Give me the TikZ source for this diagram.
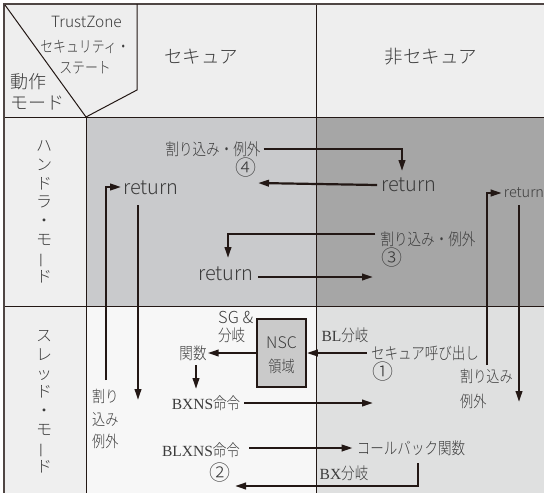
\documentclass[tikz,border=0pt]{standalone}
\usepackage{fontspec}
\usepackage{graphicx}
\usetikzlibrary{arrows.meta}
\newfontfamily\jp[FakeStretch=0.82]{Noto Sans CJK JP Light}
\newfontfamily\jpw{Noto Sans CJK JP Light}
\newfontfamily\serf{Liberation Serif}
\newcommand{\fsz}[1]{\fontsize{#1}{#1}\selectfont}
\newcommand{\lt}[1]{{\serf\fsz{15.5}#1}}
\definecolor{hdr}{HTML}{EEEEEE}
\definecolor{lcol}{HTML}{EFEFEF}
\definecolor{hsec}{HTML}{C9CACC}
\definecolor{hnon}{HTML}{A6A6A6}
\definecolor{tsec}{HTML}{F7F7F7}
\definecolor{tnon}{HTML}{DFE0E0}
\definecolor{txt}{HTML}{3C3C3C}
\definecolor{linec}{HTML}{231815}
\definecolor{nscfill}{HTML}{CACACA}
\tikzset{
  lbl/.style={inner sep=0pt, text=txt, font=\jp\fsz{16.5}},
  lat/.style={inner sep=0pt, text=txt, font=\jpw\fsz{20}},
  circ/.style={inner sep=0pt, text=txt, font=\jpw\fsz{21}},
  arr/.style={draw=linec, line width=2.2pt, -{Triangle[length=11pt,width=6.5pt]}},
  grid/.style={draw=linec, line width=1pt},
}
\begin{document}
\begin{tikzpicture}[x=1pt,y=-1pt]
\useasboundingbox (0,0) rectangle (544,493);
% backgrounds
\fill[hdr] (4,4) rectangle (544,117);
\fill[lcol] (4,117) rectangle (86,493);
\fill[hsec] (86,117) rectangle (316,306);
\fill[hnon] (316,117) rectangle (544,306);
\fill[tsec] (86,306) rectangle (316,493);
\fill[tnon] (316,306) rectangle (544,493);
% grid
\draw[grid] (4,117) -- (544,117);
\draw[grid] (4,306) -- (544,306);
\draw[grid] (86,117) -- (86,493);
\draw[grid] (316,4) -- (316,493);
\draw[draw=linec!80, line width=1.8pt] (4,493) -- (4,4) -- (544,4);
% header corner
\draw[grid] (5,5) -- (86,117);
\draw[grid] (137,4) -- (137,90) -- (86,117);
\node[lat, font=\jpw\fsz{15.5}] (tz) at (86.5,22) {TrustZone};
\node[lbl, font=\jp\fsz{15.7}] (sec1) at (85,47) {セキュリティ・};
\node[lbl, font=\jp\fsz{15.7}] (sec2) at (85,68) {ステート};
\node[lbl, font=\jpw\fsz{18}, anchor=west] (dosa) at (10,82) {動作};
\node[lbl, font=\jpw\fsz{18}, anchor=west] (mode) at (10,103) {モード};
% column headers
\node[lbl, font=\jpw\fsz{18.5}] (hsecure) at (201,57) {セキュア};
\node[lbl, font=\jpw\fsz{18.5}] (hnonsecure) at (431,57) {非セキュア};
% row headers
\node[lbl, font=\jpw\fontsize{16}{18.75}\selectfont, align=center] (rhandler) at (44,212)
  {ハ\\ン\\ド\\ラ\\・\\モ\\\rotatebox[origin=c]{90}{ー}\\ド};
\node[lbl, font=\jpw\fontsize{16}{18.75}\selectfont, align=center] (rthread) at (44,402)
  {ス\\レ\\ッ\\ド\\・\\モ\\\rotatebox[origin=c]{90}{ー}\\ド};
% handler mode labels
\node[lbl] (int4) at (213,149) {割り込み・例外};
\node[circ] (c4) at (246,168) {④};
\node[lat] (ret4) at (409,185) {return};
\node[lat] (ret4L) at (151,188) {return};
\node[lbl] (int3) at (428,239) {割り込み・例外};
\node[circ] (c3) at (392,258) {③};
\node[lat] (ret3) at (226,274) {return};
\node[lat, font=\jpw\fsz{14.5}] (retR) at (524,193) {return};
% thread mode labels
\node[lbl, align=left, anchor=north west, font=\jp\fontsize{16}{22.5}\selectfont] (intL) at (92,389) {割り\\込み\\例外};
\node[lbl, align=left, anchor=north west, font=\jp\fontsize{16}{25}\selectfont] (intR) at (460,369) {割り込み\\例外};
\node[draw=linec, line width=1.6pt, fill=nscfill, minimum width=49pt, minimum height=68pt, inner sep=0pt] (nsc) at (281.5,353) {};
\node[lbl, align=center, font=\jpw\fontsize{16}{24}\selectfont] (nsct) at (281.5,355) {NSC\\{\jp 領域}};
\node[lbl, align=left, anchor=north west, font=\jpw\fontsize{16.5}{18}\selectfont] (sg) at (218,311) {SG \&\\{\jp 分岐}};
\node[lbl] (kansu) at (193,353) {関数};
\node[lbl] (bxns) at (206,403) {\lt{BXNS}命令};
\node[lbl] (blxns) at (201,450) {\lt{BLXNS}命令};
\node[lbl] (cb) at (411,448) {コールバック関数};
\node[circ] (c2) at (220,473) {②};
\node[lbl] (bx) at (344,473) {\lt{BX}分岐};
\node[lbl] (bl) at (345,335) {\lt{BL}分岐};
\node[lbl] (call) at (425,353) {セキュア呼び出し};
\node[circ] (c1) at (383,372) {①};
% coordinates for connector bends and free ends
\coordinate (a1b) at (402,149);
\coordinate (a1e) at (402,171);
\coordinate (a2e) at (258,183);
\coordinate (a3b) at (228,234);
\coordinate (a3e) at (228,258);
\coordinate (a4e) at (373,277);
\coordinate (a5s) at (106,380);
\coordinate (a5b) at (106,187);
\coordinate (a6s) at (138,205);
\coordinate (a6e) at (138,400);
\coordinate (a7s) at (487,365);
\coordinate (a7b) at (487,193);
\coordinate (a8s) at (519,205);
\coordinate (a8e) at (519,402);
\coordinate (a11s) at (196,365);
\coordinate (a11e) at (196,389);
\coordinate (a12e) at (373,403);
\coordinate (a14s) at (418,463);
\coordinate (a14b) at (418,486);
\coordinate (a14e) at (235,486);
% connectors
\draw[arr] ([xshift=3pt]int4.east) -- (a1b) -- (a1e);
\draw[arr] ([xshift=-4pt]ret4.west) -- (a2e);
\draw[arr] ([xshift=-5pt]int3.west |- a3b) -- (a3b) -- (a3e);
\draw[arr] ([xshift=4pt]ret3.east |- a4e) -- (a4e);
\draw[arr] (a5s) -- (a5b) -- ([xshift=-2pt]ret4L.west |- a5b);
\draw[arr] (a6s) -- (a6e);
\draw[arr] (a7s) -- (a7b) -- ([xshift=-2pt]retR.west |- a7b);
\draw[arr] (a8s) -- (a8e);
\draw[arr] ([xshift=-4pt]call.west) -- (nsc.east);
\draw[arr] (nsc.west) -- ([xshift=1pt]kansu.east);
\draw[arr] (a11s) -- (a11e);
\draw[arr] ([xshift=4pt]bxns.east) -- (a12e);
\draw[arr] ([xshift=9pt]blxns.east |- cb.west) -- ([xshift=-4pt]cb.west);
\draw[arr] (a14s) -- (a14b) -- (a14e);
\end{tikzpicture}
\end{document}
